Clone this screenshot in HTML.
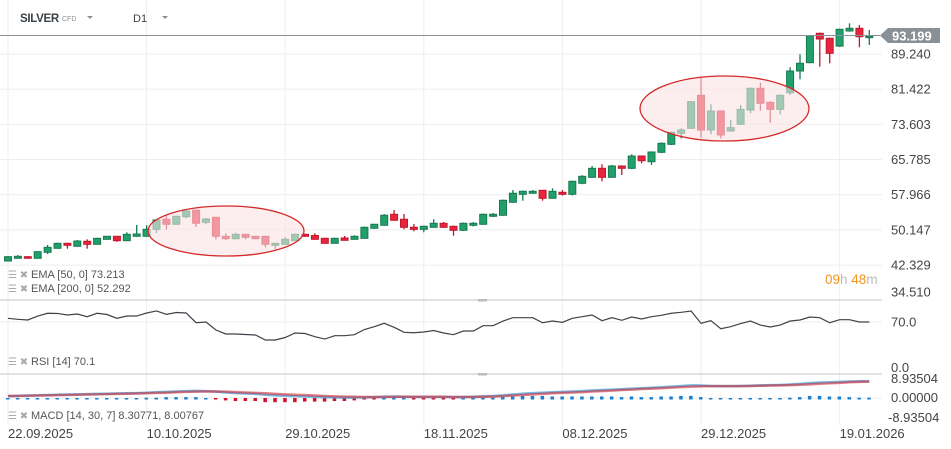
<!DOCTYPE html>
<html><head><meta charset="utf-8"><style>
html,body{margin:0;padding:0;background:#fff;width:951px;height:449px;overflow:hidden;font-family:"Liberation Sans",sans-serif}
svg{display:block}
</style></head><body>
<svg id="chart" width="951" height="449" xmlns="http://www.w3.org/2000/svg" font-family="Liberation Sans, sans-serif">
<g id="grid"></g>
<g id="candles"></g>
<ellipse cx="226" cy="231" rx="78" ry="25" fill="rgba(250,226,226,0.6)" stroke="#d42a2a" stroke-width="1.3"/>
<ellipse cx="724.5" cy="108.5" rx="84.5" ry="32.5" fill="rgba(250,226,226,0.6)" stroke="#d42a2a" stroke-width="1.3"/>
<g id="rsi"></g>
<g id="macd"></g>
<g id="axes"></g>
<line x1="0" y1="35.5" x2="880" y2="35.5" stroke="#8a9196" stroke-width="1"/>
<g><polygon points="880,35.5 888,28 940,28 940,43 888,43" fill="#8a9196"/><text x="892" y="40.5" font-size="13" fill="#fff" font-weight="bold">93.199</text></g>
<g>
<text x="20" y="22" font-size="11.5" font-weight="bold" fill="#3a4248" letter-spacing="-0.3">SILVER</text>
<text x="62" y="21" font-size="7" fill="#8a9196">CFD</text>
<polygon points="87,16 93,16 90,19" fill="#8a9196"/>
<text x="133" y="22" font-size="11" fill="#3a4248">D1</text>
<polygon points="162,16 168,16 165,19" fill="#8a9196"/>
</g>
<g font-size="11" fill="#555">
<text x="8" y="278" font-size="10" fill="#aaa">☰ ✖</text><text x="31" y="278">EMA [50,  0]  73.213</text>
<text x="8" y="292" font-size="10" fill="#aaa">☰ ✖</text><text x="31" y="292">EMA [200,  0]  52.292</text>
<text x="8" y="365" font-size="10" fill="#aaa">☰ ✖</text><text x="31" y="365">RSI [14]  70.1</text>
<text x="8" y="419" font-size="10" fill="#aaa">☰ ✖</text><text x="31" y="419">MACD [14,  30,  7] 8.30771,  8.00767</text>
</g>
<g font-size="13.5"><text x="825" y="284"><tspan fill="#f7931e">09</tspan><tspan fill="#bbb">h </tspan><tspan fill="#f7931e">48</tspan><tspan fill="#bbb">m</tspan></text></g>
</svg>
<script>
const opens=[43.24,43.84,44.20,43.84,45.17,46.06,47.17,46.51,47.62,46.95,48.06,48.73,47.75,48.73,48.73,50.28,52.51,51.40,53.08,54.51,51.84,52.95,48.73,48.20,49.17,48.73,48.73,46.73,46.95,47.75,49.17,48.90,48.28,47.17,48.35,48.06,48.28,50.51,51.18,53.62,52.51,50.73,50.28,50.73,51.62,50.95,50.06,51.18,51.40,53.18,53.40,56.29,58.06,58.29,58.95,57.18,58.51,58.06,60.51,61.84,63.84,61.84,64.35,63.84,66.57,65.31,67.40,69.17,71.62,72.73,80.06,72.35,76.57,72.13,73.62,76.80,81.62,78.51,76.95,80.64,85.46,87.31,93.84,92.73,91.00,94.35,94.95,93.00];
const highs=[44.30,44.57,44.30,45.40,46.80,47.30,47.30,47.90,48.06,48.40,48.80,48.80,49.62,51.24,51.20,52.50,53.46,53.30,54.50,54.60,52.80,53.00,49.40,49.50,49.20,48.80,48.80,47.30,48.51,49.30,49.30,49.40,48.40,48.40,48.80,48.95,50.90,51.50,53.68,54.57,53.68,51.46,51.10,52.51,51.90,51.10,51.80,51.90,53.80,53.90,56.90,59.02,58.90,59.00,59.00,59.40,59.00,61.10,62.30,64.35,64.73,64.60,64.50,66.95,66.70,67.60,69.60,72.00,72.73,78.80,84.20,78.06,76.70,74.57,77.90,81.80,82.86,78.70,80.20,86.30,89.17,93.50,94.00,92.90,94.90,96.06,95.68,94.57];
const lows=[43.10,43.80,43.80,43.80,44.80,46.00,45.97,46.40,45.97,46.90,48.00,47.50,47.70,48.60,48.60,49.46,50.28,51.30,52.73,50.80,51.40,48.06,47.90,48.06,48.06,48.10,46.28,45.84,46.90,47.70,48.60,48.00,47.10,47.10,47.80,48.00,48.20,50.40,51.10,52.20,50.28,49.84,49.62,50.60,50.60,48.86,49.90,50.90,51.30,53.00,53.30,56.20,56.64,58.20,56.64,57.10,57.80,57.80,60.30,61.70,60.95,61.70,62.35,63.70,64.95,64.57,67.20,69.00,70.50,72.60,70.64,71.40,70.50,72.00,73.50,76.06,76.64,73.97,75.84,80.13,83.62,87.20,86.42,87.17,90.80,94.20,90.73,91.24];
const closes=[44.20,44.28,43.84,45.31,46.28,47.17,46.73,47.68,46.95,48.28,48.73,47.75,49.17,49.24,50.28,52.35,51.40,53.17,54.35,51.62,52.57,48.73,48.20,49.17,48.51,48.20,46.95,47.17,48.06,49.17,48.73,48.06,47.17,48.28,47.84,48.73,50.73,51.40,53.40,52.29,50.73,50.28,50.95,51.62,50.73,50.06,51.62,51.62,53.62,53.62,56.73,58.29,58.73,58.73,57.18,58.73,58.06,60.95,62.06,63.84,61.84,64.35,63.84,66.57,65.53,67.46,69.40,71.84,72.35,78.64,72.35,76.57,71.24,72.86,76.95,81.62,78.29,76.95,80.06,85.46,87.18,93.31,92.57,89.40,94.73,94.95,93.08,93.20];
const rsiValues=[75.6,74.1,73.1,79.1,83.3,83.0,80.7,82.2,78.1,83.3,81.4,75.6,79.1,79.1,83.7,86.8,81.7,84.5,83.7,68.9,70.0,57.8,51.8,51.8,51.0,50.2,42.6,42.6,46.4,53.3,52.5,47.6,44.1,49.2,49.2,50.7,58.6,62.9,68.0,61.9,54.3,53.7,54.8,57.1,53.3,50.7,56.3,56.3,64.4,64.4,71.5,76.6,76.6,76.6,68.9,71.5,69.5,75.6,78.1,80.7,72.0,76.6,72.6,77.6,74.6,78.1,80.2,83.3,84.8,86.8,68.0,72.0,59.8,62.9,67.7,71.5,65.4,62.4,65.4,71.5,73.1,77.6,76.6,68.9,73.5,73.5,70.0,70.0];
const macdValues=[1.0,1.1,1.2,1.3,1.5,1.6,1.7,1.8,1.9,2.0,2.1,2.2,2.3,2.4,2.6,2.8,3.0,3.2,3.4,3.5,3.4,3.1,2.7,2.4,2.2,2.0,1.6,1.3,1.1,0.9,0.8,0.6,0.4,0.3,0.2,0.2,0.3,0.4,0.6,0.7,0.6,0.5,0.5,0.5,0.5,0.4,0.5,0.6,0.8,1.0,1.3,1.7,2.1,2.4,2.6,2.8,3.0,3.2,3.4,3.7,3.9,4.1,4.3,4.6,4.8,5.0,5.3,5.6,5.9,6.2,6.1,5.9,5.8,5.8,5.9,6.0,6.2,6.3,6.4,6.6,6.9,7.3,7.6,7.7,7.9,8.1,8.2,8.3];
const signalValues=[0.9,1.0,1.1,1.2,1.3,1.4,1.5,1.6,1.7,1.8,1.9,2.0,2.1,2.2,2.3,2.5,2.6,2.8,3.0,3.1,3.2,3.2,3.1,2.9,2.7,2.5,2.3,2.0,1.8,1.6,1.4,1.2,1.0,0.8,0.7,0.6,0.5,0.5,0.5,0.6,0.6,0.6,0.6,0.6,0.6,0.5,0.5,0.5,0.6,0.7,0.9,1.2,1.5,1.8,2.0,2.3,2.5,2.7,2.9,3.2,3.4,3.6,3.9,4.1,4.4,4.6,4.8,5.1,5.3,5.6,5.7,5.8,5.8,5.8,5.8,5.9,6.0,6.1,6.2,6.3,6.5,6.7,7.0,7.2,7.4,7.7,7.9,8.0];
const priceTicks=["89.240","81.422","73.603","65.785","57.966","50.147","42.329","34.510"];
const rsiTicks=["70.0","0.0"];
const macdTicks=["8.93504","0.00000","-8.93504"];
const dateLabels=["22.09.2025","10.10.2025","29.10.2025","18.11.2025","08.12.2025","29.12.2025","19.01.2026"];
const dateIndex=[0,14,28,42,56,70,84];

const NS="http://www.w3.org/2000/svg";
function mk(tag,attrs,parent){const e=document.createElementNS(NS,tag);for(const k in attrs)e.setAttribute(k,attrs[k]);parent.appendChild(e);return e;}
const xOf=i=>8+i*9.9;
const yP=p=>54+(89.24-p)*4.5;
const yR=v=>368-v*0.657;
const yM=v=>398-v*2.04;
const grid=document.getElementById('grid'),cg=document.getElementById('candles'),rg=document.getElementById('rsi'),mg=document.getElementById('macd'),ax=document.getElementById('axes');

dateLabels.forEach((d,k)=>{const x=xOf(dateIndex[k]);
  const l=mk('line',{x1:x,y1:0,x2:x,y2:425,stroke:'#eeeeee','stroke-width':1},grid);
  
  const t=mk('text',{x:x,y:438,'font-size':13,fill:'#444'},ax);
  t.textContent=d;});
priceTicks.forEach(s=>{const y=yP(parseFloat(s));
  if(y<298){const l=mk('line',{x1:0,y1:y,x2:882,y2:y,stroke:'#eeeeee','stroke-width':1},grid);
  }
  const t=mk('text',{x:891,y:Math.min(y,292)+4.5,'font-size':13,fill:'#444'},ax);t.textContent=s;
  });
[300,374].forEach(y=>{const l=mk('line',{x1:0,y1:y,x2:882,y2:y,stroke:'#d0d0d0','stroke-width':1.3},grid);
  
  const h=mk('rect',{x:478,y:y-1,width:9,height:2.5,fill:'#bbb'},grid);
  });
const gl=mk('line',{x1:0,y1:yR(70),x2:882,y2:yR(70),stroke:'#eeeeee'},grid);
[0].forEach(v=>{const l=mk('line',{x1:0,y1:yM(v),x2:882,y2:yM(v),stroke:'#eeeeee'},grid);});
opens.forEach((o,i)=>{const c=closes[i],up=c>=o,x=xOf(i);
  const col=up?'#22a06b':'#e8253d',stroke=up?'#16794f':'#c0172c';
  const w=mk('line',{x1:x,y1:yP(highs[i]),x2:x,y2:yP(lows[i]),stroke:stroke,'stroke-width':1.3},cg);
  
  const top=yP(Math.max(o,c)),h=Math.max(1.5,yP(Math.min(o,c))-top);
  const r=mk('rect',{x:x-3.5,y:top,width:7,height:h,fill:col,stroke:stroke,'stroke-width':1},cg);
  });
const rp=mk('polyline',{points:rsiValues.map((v,i)=>xOf(i)+','+yR(v)).join(' '),fill:'none',stroke:'#3d434a','stroke-width':1.2},rg);

rsiTicks.forEach(s=>{const t=mk('text',{x:891,y:yR(parseFloat(s))+(s=='0.0'?4:4.5),'font-size':13,fill:'#444'},ax);t.textContent=s;
  });
macdValues.forEach((m,i)=>{const h=(m-signalValues[i])*4,x=xOf(i);
  const hh=Math.max(1.5,Math.abs(h)*1.5);
  const b=mk('rect',{x:x-2,y:h>=0?yM(0)-hh+1.5:yM(0),width:3.5,height:hh,fill:h>=0?'#1a7fd0':'#d0102a'},mg);
  });
const ml=mk('polyline',{points:macdValues.map((v,i)=>xOf(i)+','+yM(v)).join(' '),fill:'none',stroke:'rgba(70,160,220,0.75)','stroke-width':2.5},mg);

const sl=mk('polyline',{points:signalValues.map((v,i)=>xOf(i)+','+yM(v)).join(' '),fill:'none',stroke:'rgba(210,40,50,0.6)','stroke-width':2.5},mg);

macdTicks.forEach((s,k)=>{const yy=[383,402,422][k];const t=mk('text',{x:k==2?888:891,y:yy,'font-size':13,fill:'#444'},ax);t.textContent=s;
  });
</script>
</body></html>
